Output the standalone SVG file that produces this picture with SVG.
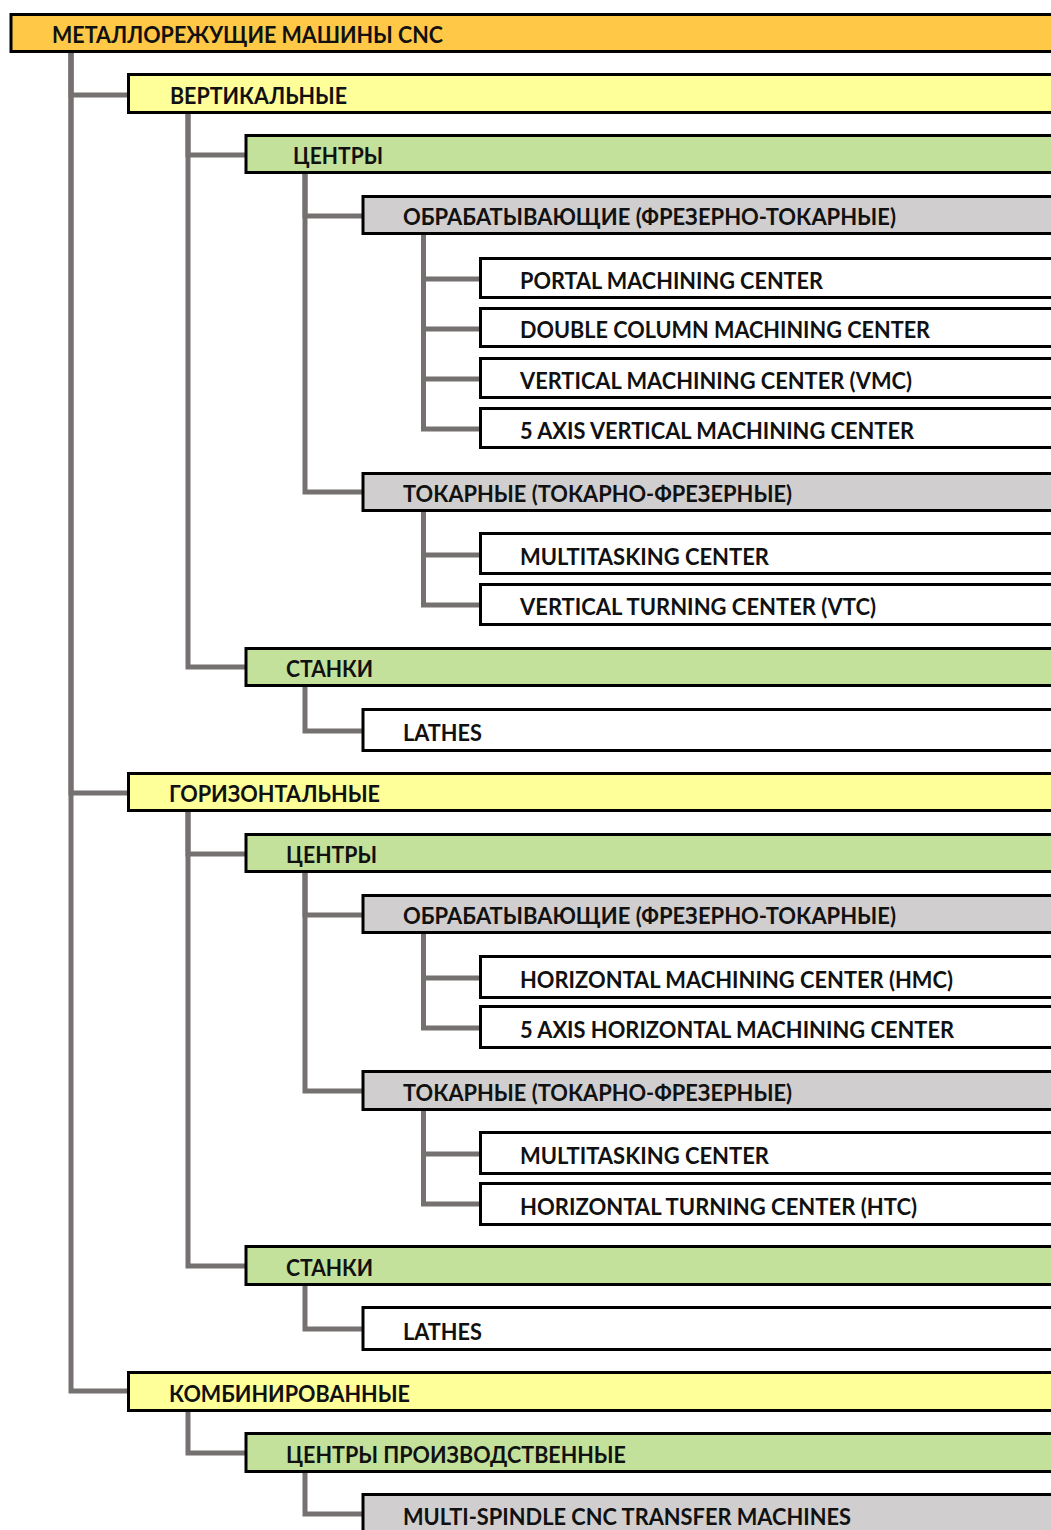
<svg xmlns="http://www.w3.org/2000/svg" width="1051" height="1530" viewBox="0 0 1051 1530">
<style>
.box{stroke:#000;stroke-width:3}
.l0{fill:#FFC947}.l1{fill:#FFFF99}.l2{fill:#C3E19B}.l3{fill:#D0CECE}.l4{fill:#FFFFFF}
text{font-family:Lato,"Open Sans","Liberation Sans",sans-serif;font-weight:bold;font-size:22px;fill:#111}
.conn path{fill:none;stroke:#767171;stroke-width:5;stroke-linejoin:miter;stroke-linecap:butt}
</style>
<rect width="1051" height="1530" fill="#fff"/>
<g class="conn" id="connectors">
<path d="M71 53V95H127"/>
<path d="M71 53V793H127"/>
<path d="M71 53V1391H127"/>
<path d="M188 114V155H245"/>
<path d="M188 114V667H245"/>
<path d="M305 174V216H362"/>
<path d="M305 174V492H362"/>
<path d="M423.5 235V279H480"/>
<path d="M423.5 235V329H480"/>
<path d="M423.5 235V379H480"/>
<path d="M423.5 235V429H480"/>
<path d="M423.5 512V555H480"/>
<path d="M423.5 512V605H480"/>
<path d="M305 687V731H362"/>
<path d="M188 812V854H245"/>
<path d="M188 812V1266H245"/>
<path d="M305 873V915H362"/>
<path d="M305 873V1091H362"/>
<path d="M423.5 934V978H480"/>
<path d="M423.5 934V1028H480"/>
<path d="M423.5 1111V1154H480"/>
<path d="M423.5 1111V1204H480"/>
<path d="M305 1286V1329H362"/>
<path d="M188 1412V1453H245"/>
<path d="M305 1473V1514H362"/>
</g>
<g id="n-root"><rect class="box l0" x="11" y="14.5" width="1060" height="37"/><text x="52" y="43" textLength="391" lengthAdjust="spacingAndGlyphs">МЕТАЛЛОРЕЖУЩИЕ МАШИНЫ CNC</text></g>
<g id="n-vert"><rect class="box l1" x="128.5" y="74.5" width="1060" height="38"/><text x="170" y="104" textLength="177" lengthAdjust="spacingAndGlyphs">ВЕРТИКАЛЬНЫЕ</text></g>
<g id="n-vert-centers"><rect class="box l2" x="246" y="135.5" width="1060" height="37"/><text x="293" y="164" textLength="90" lengthAdjust="spacingAndGlyphs">ЦЕНТРЫ</text></g>
<g id="n-vert-mill"><rect class="box l3" x="363" y="196.5" width="1060" height="37"/><text x="403" y="225" textLength="493" lengthAdjust="spacingAndGlyphs">ОБРАБАТЫВАЮЩИЕ (ФРЕЗЕРНО-ТОКАРНЫЕ)</text></g>
<g id="n-portal"><rect class="box l4" x="480.5" y="258.5" width="1060" height="39"/><text x="520" y="288.5" textLength="303" lengthAdjust="spacingAndGlyphs">PORTAL MACHINING CENTER</text></g>
<g id="n-double"><rect class="box l4" x="480.5" y="308.5" width="1060" height="38"/><text x="520" y="338" textLength="410" lengthAdjust="spacingAndGlyphs">DOUBLE COLUMN MACHINING CENTER</text></g>
<g id="n-vmc"><rect class="box l4" x="480.5" y="358.5" width="1060" height="39"/><text x="520" y="388.5" textLength="392" lengthAdjust="spacingAndGlyphs">VERTICAL MACHINING CENTER (VMC)</text></g>
<g id="n-5axv"><rect class="box l4" x="480.5" y="408.5" width="1060" height="39"/><text x="520" y="438.5" textLength="394" lengthAdjust="spacingAndGlyphs">5 AXIS VERTICAL MACHINING CENTER</text></g>
<g id="n-vert-turn"><rect class="box l3" x="363" y="473.5" width="1060" height="37"/><text x="403" y="502" textLength="389" lengthAdjust="spacingAndGlyphs">ТОКАРНЫЕ (ТОКАРНО-ФРЕЗЕРНЫЕ)</text></g>
<g id="n-multi1"><rect class="box l4" x="480.5" y="533.5" width="1060" height="40"/><text x="520" y="564.5" textLength="249" lengthAdjust="spacingAndGlyphs">MULTITASKING CENTER</text></g>
<g id="n-vtc"><rect class="box l4" x="480.5" y="584.5" width="1060" height="40"/><text x="520" y="615" textLength="356" lengthAdjust="spacingAndGlyphs">VERTICAL TURNING CENTER (VTC)</text></g>
<g id="n-vert-stanki"><rect class="box l2" x="246" y="648.5" width="1060" height="37"/><text x="286" y="677" textLength="87" lengthAdjust="spacingAndGlyphs">СТАНКИ</text></g>
<g id="n-lathes1"><rect class="box l4" x="363" y="709.5" width="1060" height="41"/><text x="403" y="741" textLength="79" lengthAdjust="spacingAndGlyphs">LATHES</text></g>
<g id="n-horiz"><rect class="box l1" x="128.5" y="773.5" width="1060" height="37"/><text x="169" y="802" textLength="211" lengthAdjust="spacingAndGlyphs">ГОРИЗОНТАЛЬНЫЕ</text></g>
<g id="n-horiz-centers"><rect class="box l2" x="246" y="834.5" width="1060" height="37"/><text x="286" y="863" textLength="91" lengthAdjust="spacingAndGlyphs">ЦЕНТРЫ</text></g>
<g id="n-horiz-mill"><rect class="box l3" x="363" y="895.5" width="1060" height="37"/><text x="403" y="924" textLength="493" lengthAdjust="spacingAndGlyphs">ОБРАБАТЫВАЮЩИЕ (ФРЕЗЕРНО-ТОКАРНЫЕ)</text></g>
<g id="n-hmc"><rect class="box l4" x="480.5" y="956.5" width="1060" height="41"/><text x="520" y="988" textLength="433" lengthAdjust="spacingAndGlyphs">HORIZONTAL MACHINING CENTER (HMC)</text></g>
<g id="n-5axh"><rect class="box l4" x="480.5" y="1006.5" width="1060" height="41"/><text x="520" y="1038" textLength="434" lengthAdjust="spacingAndGlyphs">5 AXIS HORIZONTAL MACHINING CENTER</text></g>
<g id="n-horiz-turn"><rect class="box l3" x="363" y="1071.5" width="1060" height="38"/><text x="403" y="1101" textLength="389" lengthAdjust="spacingAndGlyphs">ТОКАРНЫЕ (ТОКАРНО-ФРЕЗЕРНЫЕ)</text></g>
<g id="n-multi2"><rect class="box l4" x="480.5" y="1132.5" width="1060" height="41"/><text x="520" y="1164" textLength="249" lengthAdjust="spacingAndGlyphs">MULTITASKING CENTER</text></g>
<g id="n-htc"><rect class="box l4" x="480.5" y="1183.5" width="1060" height="41"/><text x="520" y="1215" textLength="397" lengthAdjust="spacingAndGlyphs">HORIZONTAL TURNING CENTER (HTC)</text></g>
<g id="n-horiz-stanki"><rect class="box l2" x="246" y="1246.5" width="1060" height="38"/><text x="286" y="1276" textLength="87" lengthAdjust="spacingAndGlyphs">СТАНКИ</text></g>
<g id="n-lathes2"><rect class="box l4" x="363" y="1307.5" width="1060" height="42"/><text x="403" y="1340" textLength="79" lengthAdjust="spacingAndGlyphs">LATHES</text></g>
<g id="n-comb"><rect class="box l1" x="128.5" y="1372.5" width="1060" height="38"/><text x="169" y="1402" textLength="241" lengthAdjust="spacingAndGlyphs">КОМБИНИРОВАННЫЕ</text></g>
<g id="n-comb-centers"><rect class="box l2" x="246" y="1433.5" width="1060" height="38"/><text x="286" y="1463" textLength="340" lengthAdjust="spacingAndGlyphs">ЦЕНТРЫ ПРОИЗВОДСТВЕННЫЕ</text></g>
<g id="n-transfer"><rect class="box l3" x="363" y="1494.5" width="1060" height="50"/><text x="403" y="1525" textLength="448" lengthAdjust="spacingAndGlyphs">MULTI-SPINDLE CNC TRANSFER MACHINES</text></g>
</svg>
